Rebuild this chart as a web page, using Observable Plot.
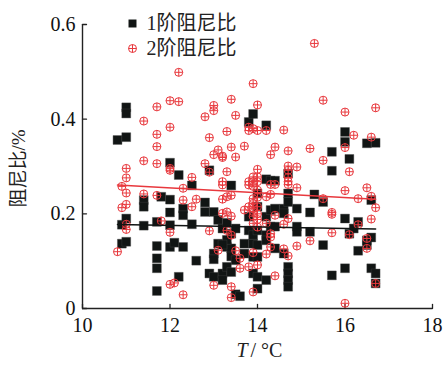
<!DOCTYPE html>
<html>
<head>
<meta charset="utf-8">
<script src="https://cdn.jsdelivr.net/npm/d3@7"></script>
<script src="https://cdn.jsdelivr.net/npm/@observablehq/plot@0.6"></script>
<style>
  html, body { margin: 0; padding: 0; background: #fff; }
  #chart { position: relative; width: 444px; height: 366px; }
</style>
</head>
<body>
<div id="chart"></div>
<script>
// ---- data ----
const seriesNames = ["1阶阻尼比", "2阶阻尼比"];

const t1 = [10.8,11.0,11.0,11.0,10.9,11.0,10.9,11.0,11.4,11.4,11.4,11.7,11.7,11.7,11.7,11.7,11.8,12.0,12.0,12.0,12.0,12.0,12.1,12.2,12.2,12.3,12.3,12.3,12.5,12.5,12.6,12.8,12.8,12.9,13.0,12.9,13.0,13.1,13.1,13.0,13.0,13.2,13.2,13.2,13.3,13.3,13.4,13.4,13.4,13.4,13.4,13.5,13.5,13.5,13.6,13.7,13.7,13.8,13.9,13.8,13.8,13.9,13.9,13.9,13.9,14.0,14.0,14.0,14.0,14.0,14.0,14.0,14.2,14.2,14.3,14.4,14.2,14.2,14.2,14.2,14.3,14.3,14.4,14.4,14.4,14.6,14.6,14.6,14.7,14.7,14.7,14.7,14.7,14.7,14.7,14.9,14.9,14.9,15.2,15.2,15.3,15.5,15.5,15.7,15.7,15.7,16.0,16.0,16.0,16.0,16.1,16.1,16.2,16.3,16.3,16.5,16.5,16.5,16.6,16.6,16.6,16.7,16.7,16.7,13.3,13.2,13.3];
const v1 = [0.356,0.425,0.412,0.362,0.177,0.190,0.137,0.141,0.229,0.215,0.175,0.183,0.132,0.106,0.085,0.037,0.236,0.308,0.230,0.203,0.176,0.130,0.139,0.282,0.067,0.211,0.197,0.130,0.260,0.178,0.101,0.224,0.204,0.292,0.204,0.074,0.067,0.187,0.137,0.116,0.104,0.169,0.074,0.060,0.130,0.088,0.260,0.127,0.077,0.158,0.110,0.169,0.102,0.030,0.026,0.137,0.116,0.394,0.411,0.194,0.165,0.155,0.137,0.109,0.074,0.243,0.215,0.165,0.134,0.109,0.067,0.042,0.387,0.273,0.270,0.270,0.155,0.144,0.060,0.194,0.208,0.173,0.211,0.173,0.127,0.211,0.201,0.116,0.285,0.243,0.225,0.088,0.074,0.060,0.046,0.211,0.173,0.162,0.203,0.162,0.241,0.225,0.134,0.331,0.291,0.070,0.373,0.352,0.190,0.085,0.316,0.158,0.169,0.183,0.122,0.349,0.144,0.134,0.229,0.150,0.085,0.350,0.074,0.053,0.145,0.135,0.181];

const t2 = [15.3,12.2,13.9,12.0,12.2,13.4,15.5,11.7,13.0,13.0,14.0,16.7,16.0,12.8,13.5,11.4,12.0,13.8,13.8,13.9,14.0,14.2,14.6,13.3,11.7,16.2,16.6,12.9,11.7,13.4,13.7,14.4,15.2,16.0,13.1,14.7,13.0,13.2,13.2,14.3,13.5,11.4,15.5,11.7,12.8,11.0,12.0,12.0,14.0,14.7,14.7,14.9,16.1,12.9,13.3,11.0,12.5,13.9,14.0,14.0,14.7,14.7,13.2,13.2,13.8,13.9,13.8,13.9,14.3,14.4,14.9,12.3,10.9,16.5,16.0,11.0,11.4,11.7,13.4,14.2,14.3,14.0,13.9,12.6,12.3,13.2,13.3,16.6,15.5,16.3,10.9,11.0,12.5,16.7,13.7,13.8,13.9,13.9,14.0,13.9,14.0,13.9,14.0,13.2,13.3,13.4,15.7,15.7,11.8,11.0,11.0,14.7,16.6,16.3,14.4,14.6,14.2,12.0,12.9,15.7,16.1,13.3,13.4,14.3,14.3,15.2,16.5,16.5,14.3,14.9,10.8,13.1,13.5,14.6,14.7,13.9,14.2,13.6,13.6,13.8,14.0,14.4,12.0,12.1,13.0,12.3,13.4,13.4,13.9,16.7,16.0,14.7,14.0,14.0,13.9];
const v2 = [0.560,0.499,0.475,0.439,0.437,0.442,0.440,0.426,0.429,0.418,0.430,0.424,0.415,0.405,0.408,0.396,0.383,0.383,0.376,0.380,0.376,0.376,0.377,0.374,0.368,0.366,0.362,0.361,0.342,0.341,0.343,0.341,0.338,0.340,0.335,0.333,0.325,0.322,0.319,0.325,0.320,0.312,0.313,0.306,0.306,0.296,0.296,0.292,0.294,0.301,0.292,0.299,0.289,0.288,0.289,0.276,0.277,0.278,0.278,0.268,0.277,0.268,0.268,0.261,0.268,0.268,0.261,0.258,0.262,0.262,0.255,0.254,0.258,0.255,0.249,0.244,0.242,0.239,0.239,0.236,0.241,0.235,0.232,0.231,0.229,0.231,0.236,0.237,0.232,0.232,0.213,0.220,0.215,0.213,0.208,0.215,0.212,0.222,0.200,0.195,0.188,0.180,0.172,0.201,0.204,0.195,0.203,0.199,0.185,0.178,0.167,0.190,0.189,0.177,0.197,0.178,0.180,0.161,0.164,0.160,0.156,0.165,0.155,0.158,0.151,0.143,0.148,0.127,0.130,0.132,0.120,0.123,0.122,0.126,0.111,0.118,0.115,0.106,0.085,0.088,0.092,0.069,0.051,0.054,0.049,0.029,0.046,0.023,0.035,0.053,0.011,0.262,0.250,0.215,0.205];

// fitted trend lines
const fitT = [10.8, 16.7];
const fit1 = [0.1775, 0.168];
const fit2 = [0.261, 0.231];

const xTicks = [10, 12, 14, 16, 18];
const yTicks = [0, 0.2, 0.4, 0.6];
const yTickLabels = ["0", "0.2", "0.4", "0.6"];
const xDomain = [10, 18];
const yDomain = [0, 0.6];
const yTitle = "阻尼比/%";
const xTitleVar = "T";
const xTitleUnit = "/ °C";

// ---- build tables ----
const s1 = t1.map((t, i) => ({T: t, v: v1[i]}));
const s2 = t2.map((t, i) => ({T: t, v: v2[i]}));
const f1 = fitT.map((t, i) => ({T: t, v: fit1[i]}));
const f2 = fitT.map((t, i) => ({T: t, v: fit2[i]}));

const RED = "#e8383d";
const BLACK = "#111514";
const SERIF = "'Liberation Serif', 'Times New Roman', 'Noto Sans CJK SC', serif";

// circle with a cross inside
const circlePlus = {
  draw(ctx, size) {
    const r = Math.sqrt(size / Math.PI);
    ctx.moveTo(r, 0);
    ctx.arc(0, 0, r, 0, 2 * Math.PI);
    ctx.moveTo(-r, 0); ctx.lineTo(r, 0);
    ctx.moveTo(0, -r); ctx.lineTo(0, r);
  }
};
// plain line shape for tick vectors
const tickShape = {
  draw(ctx, l) { ctx.moveTo(0, 0); ctx.lineTo(0, -l); }
};

const W = 444, H = 366;
const mL = 82, mR = 12, mT = 24, mB = 58;

const plot = Plot.plot({
  width: W, height: H,
  marginLeft: mL, marginRight: mR, marginTop: mT, marginBottom: mB,
  style: {background: "#fff", fontFamily: SERIF, color: "#111"},
  x: {domain: xDomain, label: null},
  y: {domain: yDomain, label: null},
  marks: [
    Plot.axisX({ticks: xTicks, tickSize: 0, tickPadding: 9, fontSize: 20, fontFamily: SERIF, label: null, fill: "#111"}),
    Plot.axisY({ticks: yTicks, tickSize: 0, tickPadding: 7, fontSize: 20, fontFamily: SERIF, label: null, fill: "#111",
      tickFormat: d => yTickLabels[yTicks.indexOf(d)]}),
    // inward ticks
    Plot.vector(xTicks, {x: d => d, y: yDomain[0], length: 4, rotate: 0, anchor: "start", shape: tickShape, stroke: "#222", strokeWidth: 1.3}),
    Plot.vector(yTicks, {x: xDomain[0], y: d => d, length: 4, rotate: 90, anchor: "start", shape: tickShape, stroke: "#222", strokeWidth: 1.3}),
    // axis lines
    Plot.ruleX([xDomain[0]], {stroke: "#222", strokeWidth: 1.4}),
    Plot.ruleY([yDomain[0]], {stroke: "#222", strokeWidth: 1.4}),
    // series 1
    Plot.dot(s1, {x: "T", y: "v", symbol: "square", r: 5, fill: BLACK, stroke: "#444", strokeWidth: 0.4}),
    // series 2
    Plot.dot(s2, {x: "T", y: "v", symbol: circlePlus, r: 4, fill: "none", stroke: RED, strokeWidth: 1}),
    // trend lines
    Plot.line(f2, {x: "T", y: "v", stroke: RED, strokeWidth: 1.5}),
    Plot.line(f1, {x: "T", y: "v", stroke: BLACK, strokeWidth: 1.5}),
    // legend
    Plot.dot([seriesNames[0]], {frameAnchor: "top-left", dx: 50, dy: -1, symbol: "square", r: 4.5, fill: BLACK}),
    Plot.dot([seriesNames[1]], {frameAnchor: "top-left", dx: 50, dy: 24, symbol: circlePlus, r: 4, fill: "none", stroke: RED, strokeWidth: 1}),
    Plot.text([seriesNames[0]], {text: d => d, frameAnchor: "top-left", dx: 64, dy: -1, textAnchor: "start", lineAnchor: "middle", fontSize: 20, fontFamily: SERIF, fill: "#222"}),
    Plot.text([seriesNames[1]], {text: d => d, frameAnchor: "top-left", dx: 64, dy: 24, textAnchor: "start", lineAnchor: "middle", fontSize: 20, fontFamily: SERIF, fill: "#222"}),
    // axis titles
    Plot.text([yTitle], {text: d => d, frameAnchor: "left", dx: -64, dy: 2, rotate: -90, textAnchor: "middle", lineAnchor: "middle", fontSize: 19, fontFamily: SERIF, fill: "#222"}),
    Plot.text([xTitleVar], {text: d => d, frameAnchor: "bottom", dx: -10, dy: 42, textAnchor: "end", lineAnchor: "middle", fontSize: 20, fontStyle: "italic", fontFamily: SERIF, fill: "#222"}),
    Plot.text([xTitleUnit], {text: d => d, frameAnchor: "bottom", dx: -7, dy: 42, textAnchor: "start", lineAnchor: "middle", fontSize: 20, fontFamily: SERIF, fill: "#222"})
  ]
});
document.getElementById("chart").appendChild(plot);
</script>
</body>
</html>
